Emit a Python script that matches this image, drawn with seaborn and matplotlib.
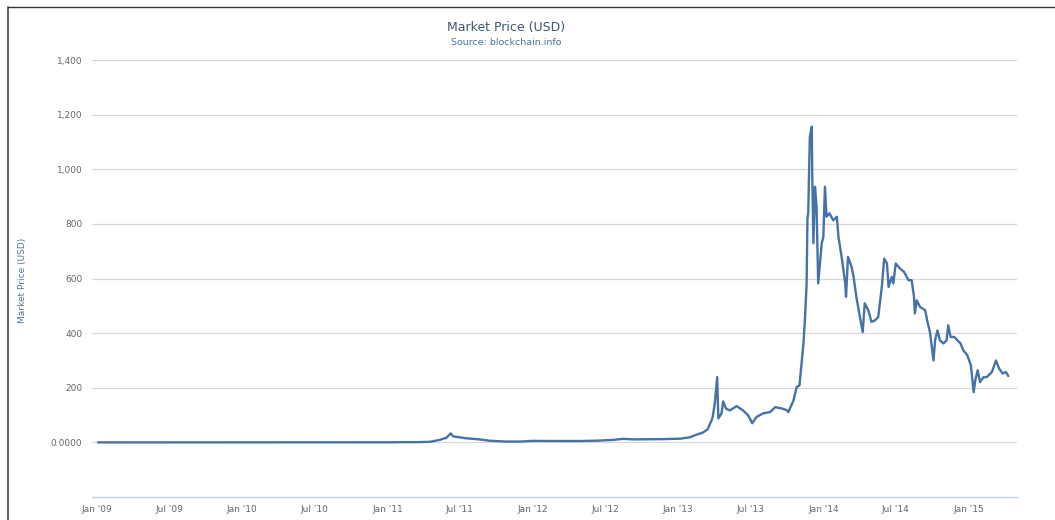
"""
Market price (USD) chart, blockchain.info style.
"""

import matplotlib
matplotlib.use('Agg')
import matplotlib.pyplot as plt
import matplotlib.dates as mdates
from matplotlib.lines import Line2D
from matplotlib.ticker import FixedLocator, FixedFormatter
import seaborn as sns
import pandas as pd

# values
dates = [
    '2009-01-03', '2009-06-01', '2010-01-01', '2010-07-17', '2010-10-01',
    '2010-11-06', '2010-12-15', '2011-01-15', '2011-02-10', '2011-03-15',
    '2011-04-17', '2011-05-12', '2011-05-29', '2011-06-09', '2011-06-15',
    '2011-07-18', '2011-08-20', '2011-09-15', '2011-10-27', '2011-12-01',
    '2012-01-01', '2012-03-01', '2012-04-28', '2012-06-15', '2012-07-20',
    '2012-08-16', '2012-09-10', '2012-10-15', '2012-11-24', '2013-01-06',
    '2013-01-31', '2013-02-08', '2013-03-04', '2013-03-16', '2013-03-26',
    '2013-03-29', '2013-04-03', '2013-04-09', '2013-04-12', '2013-04-20',
    '2013-04-24', '2013-05-01', '2013-05-11', '2013-05-28', '2013-06-13',
    '2013-06-26', '2013-07-06', '2013-07-17', '2013-08-02', '2013-08-20',
    '2013-09-02', '2013-09-19', '2013-10-01', '2013-10-05', '2013-10-18',
    '2013-10-26', '2013-11-02', '2013-11-08', '2013-11-12', '2013-11-16',
    '2013-11-20', '2013-11-22', '2013-11-24', '2013-11-28', '2013-12-03',
    '2013-12-04', '2013-12-07', '2013-12-11', '2013-12-15', '2013-12-19',
    '2013-12-28', '2014-01-01', '2014-01-05', '2014-01-09', '2014-01-16',
    '2014-01-26', '2014-02-04', '2014-02-08', '2014-02-16', '2014-02-25',
    '2014-02-27', '2014-03-04', '2014-03-13', '2014-03-18', '2014-03-25',
    '2014-04-03', '2014-04-10', '2014-04-15', '2014-04-24', '2014-05-02',
    '2014-05-11', '2014-05-19', '2014-05-28', '2014-06-03', '2014-06-10',
    '2014-06-14', '2014-06-22', '2014-06-26', '2014-07-02', '2014-07-13',
    '2014-07-23', '2014-08-03', '2014-08-11', '2014-08-17', '2014-08-19',
    '2014-08-24', '2014-09-01', '2014-09-14', '2014-09-19', '2014-09-26',
    '2014-10-05', '2014-10-09', '2014-10-15', '2014-10-21', '2014-10-30',
    '2014-11-07', '2014-11-11', '2014-11-17', '2014-11-26', '2014-12-04',
    '2014-12-12', '2014-12-19', '2014-12-29', '2015-01-07', '2015-01-14',
    '2015-01-18', '2015-01-24', '2015-01-30', '2015-02-08', '2015-02-16',
    '2015-03-01', '2015-03-11', '2015-03-19', '2015-03-28', '2015-04-05',
    '2015-04-11',
]
prices = [
    0, 0, 0, 0.05, 0.06,
    0.4, 0.25, 0.4, 1.0, 0.9,
    2, 9, 17, 33, 22,
    15, 11, 6, 3, 3,
    5.5, 5, 5, 6.5, 9,
    13, 11, 11.5, 12, 13.5,
    19, 24, 36, 48, 81,
    95, 142, 239, 88, 106,
    150, 124, 117, 133, 117,
    99, 70, 93, 106, 111,
    129, 124, 118, 111, 154,
    203, 209, 300, 363, 459,
    582, 820, 839, 1119, 1156,
    986, 729, 936, 862, 582,
    729, 752, 936, 826, 839,
    813, 826, 752, 679, 582,
    533, 679, 643, 606, 533,
    459, 404, 509, 484, 441,
    447, 459, 569, 673, 655,
    569, 606, 582, 655, 636,
    624, 594, 594, 533, 472,
    520, 496, 484, 447, 404,
    300, 374, 410, 374, 362,
    374, 429, 386, 386, 374,
    362, 337, 319, 282, 184,
    227, 264, 221, 239, 239,
    258, 300, 270, 252, 258,
    243,
]

y_ticks = [0, 200, 400, 600, 800, 1000, 1200, 1400]
y_labels = ['0.0000', '200', '400', '600', '800', '1,000', '1,200', '1,400']

df = pd.DataFrame({'date': pd.to_datetime(dates), 'price': prices})

sns.set_style('white')
plt.rcParams['font.family'] = ['DejaVu Sans']

fig = plt.figure(figsize=(10.55, 5.2), dpi=100)
ax = fig.add_axes([0.0872, 0.0442, 0.8768, 0.8404])

sns.lineplot(data=df, x='date', y='price', color='#4572a7', lw=1.7, ax=ax)

ax.set_ylim(-200, 1400)
ax.set_xlim(pd.Timestamp('2008-12-19'), pd.Timestamp('2015-05-03'))

ax.yaxis.set_major_locator(FixedLocator(y_ticks))
ax.yaxis.set_major_formatter(FixedFormatter(y_labels))
ax.xaxis.set_major_locator(mdates.MonthLocator(bymonth=[1, 7]))
ax.xaxis.set_major_formatter(mdates.DateFormatter("%b '%y"))

ax.grid(axis='y', color='#d8d8d8', lw=0.9)
ax.grid(axis='x', visible=False)
for side in ['top', 'right', 'left']:
    ax.spines[side].set_visible(False)
ax.spines['bottom'].set_color('#c0d0e0')
ax.spines['bottom'].set_linewidth(1.0)

ax.tick_params(axis='y', length=0, pad=7, labelsize=6.5, labelcolor='#666666')
ax.tick_params(axis='x', length=4, width=0.8, color='#c0d0e0', pad=2,
               labelsize=6.5, labelcolor='#666666')

ax.set_xlabel('')
ax.set_ylabel('')

fig.text(0.48, 0.948, 'Market Price (USD)', ha='center', va='center',
         fontsize=9, color='#3e576f')
fig.text(0.48, 0.919, 'Source: blockchain.info', ha='center', va='center',
         fontsize=6.8, color='#4572a7')
fig.text(0.021, 0.46, 'Market Price (USD)', ha='center', va='center',
         rotation=90, fontsize=6.5, color='#4d759e')

# page frame, left and top
fig.add_artist(Line2D([0.0076, 0.0076], [0, 0.9856], color='#555555', lw=1.3))
fig.add_artist(Line2D([0.0076, 1.0], [0.9856, 0.9856], color='#333333', lw=1.0))

plt.savefig('out.png', dpi=100)
